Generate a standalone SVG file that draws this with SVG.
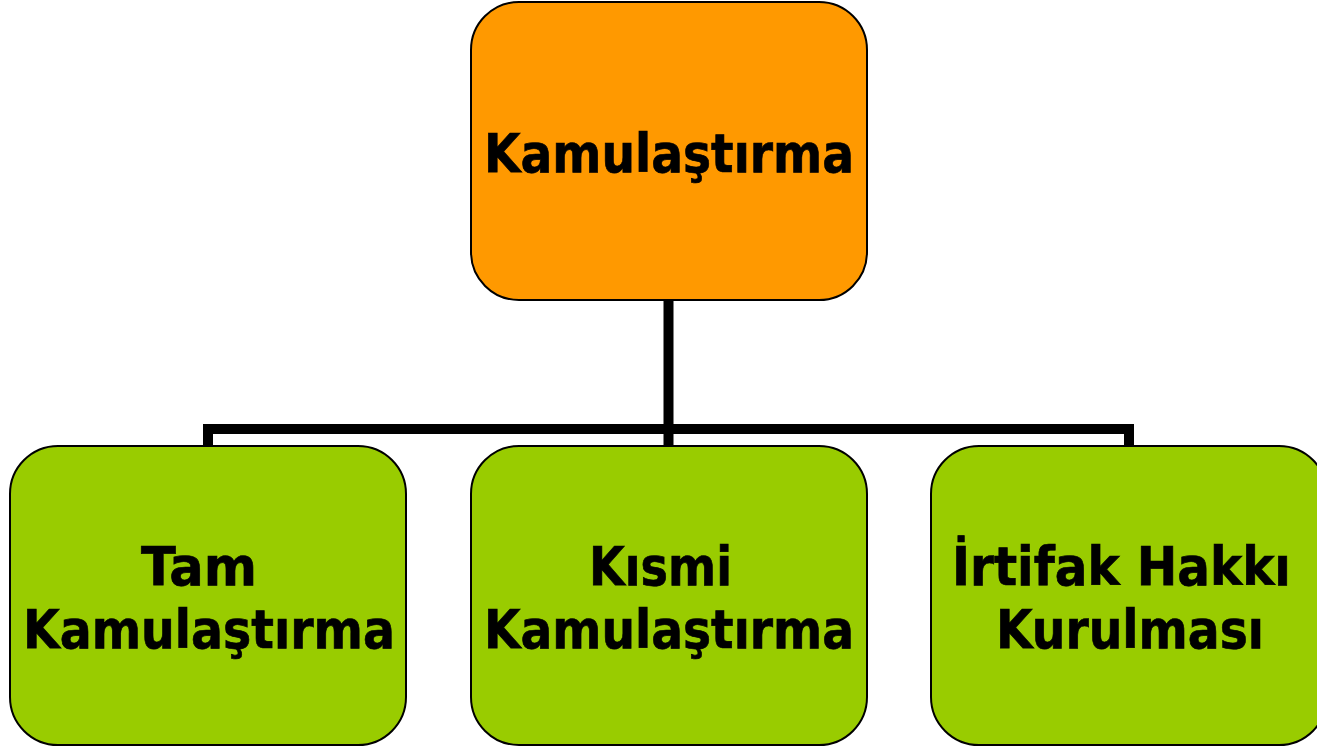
<svg xmlns="http://www.w3.org/2000/svg" width="1317" height="747" viewBox="0 0 1317 747">
<style>
.box{stroke:#000;stroke-width:2}
.top{fill:#FF9900}
.sub{fill:#99CC00}
.lbl{font-family:"DejaVu Sans","Verdana",sans-serif;font-weight:bold;font-size:54px;fill:#000;stroke:#000;stroke-width:0.7}
.conn{fill:none;stroke:#000;stroke-width:10;stroke-linejoin:miter;stroke-linecap:butt}
</style>
<rect width="1317" height="747" fill="#fff"/>
<g id="connectors">
<path class="conn" d="M668.5 300 V447 M208 447 V429 H1129 V447"/>
</g>
<g id="node-kamulastirma">
<rect class="box top" x="471" y="2" width="396" height="298" rx="48" ry="48"/>
<text class="lbl" x="484" y="172" textLength="370" lengthAdjust="spacingAndGlyphs">Kamulaştırma</text>
</g>
<g id="node-tam">
<rect class="box sub" x="10" y="446" width="396" height="299" rx="48" ry="48"/>
<text class="lbl" x="141" y="585" textLength="116" lengthAdjust="spacingAndGlyphs">Tam</text>
<text class="lbl" x="23" y="648" textLength="372" lengthAdjust="spacingAndGlyphs">Kamulaştırma</text>
</g>
<g id="node-kismi">
<rect class="box sub" x="471" y="446" width="396" height="299" rx="48" ry="48"/>
<text class="lbl" x="589" y="585" textLength="143" lengthAdjust="spacingAndGlyphs">Kısmi</text>
<text class="lbl" x="484" y="648" textLength="370" lengthAdjust="spacingAndGlyphs">Kamulaştırma</text>
</g>
<g id="node-irtifak">
<rect class="box sub" x="931" y="446" width="396" height="299" rx="48" ry="48"/>
<text class="lbl" x="952" y="585" textLength="339" lengthAdjust="spacingAndGlyphs">İrtifak Hakkı</text>
<text class="lbl" x="996" y="648" textLength="268" lengthAdjust="spacingAndGlyphs">Kurulması</text>
</g>
</svg>
